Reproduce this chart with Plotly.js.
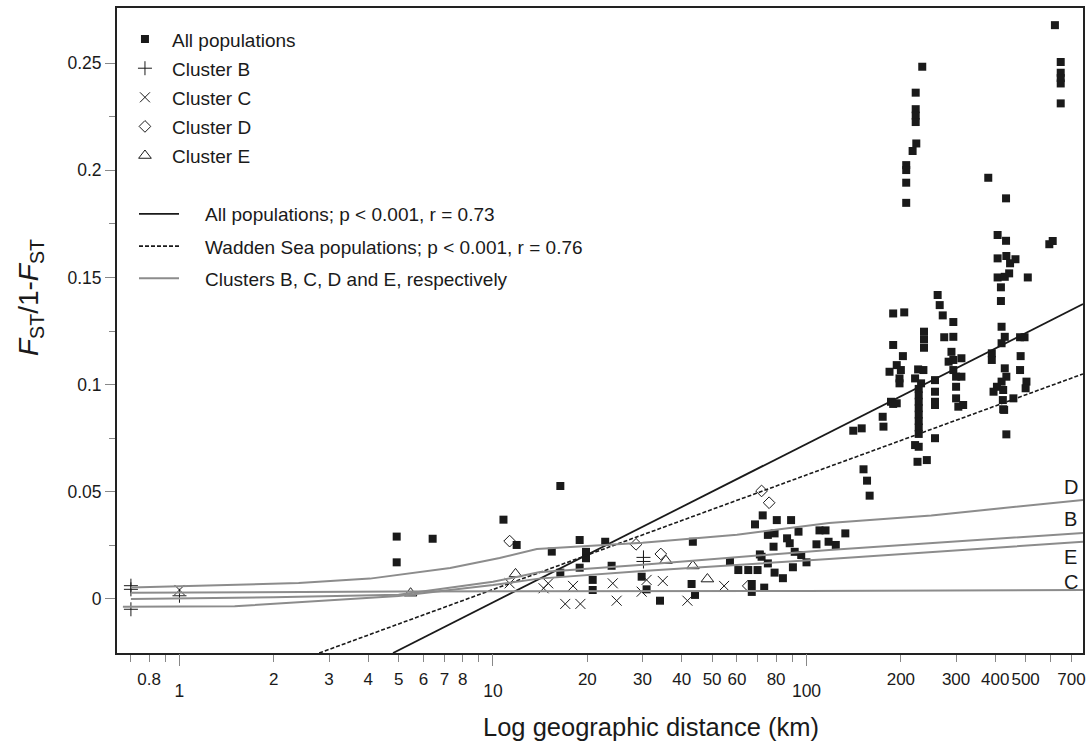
<!DOCTYPE html>
<html><head><meta charset="utf-8">
<script src="https://cdn.plot.ly/plotly-3.0.1.min.js"></script>
<style>body{margin:0;background:#fff}#chart{width:1090px;height:747px}</style>
</head><body><div id="chart"></div>
<script>
// ---- data: all populations (km, Fst/(1-Fst)) ----
const allX = [4.93,4.93,6.42,10.8,11.9,15.4,16.4,16.4,18.9,18.9,19.8,19.8,20.8,20.8,22.8,23.9,29.8,30.9,34.1,43.0,44.1,43.4,57.0,60.6,65.2,69.8,71.9,66.9,66.9,73.3,72.5,68.5,80.4,89.3,78.5,84.1,90.5,100,107.6,110,115,117.6,94.3,91.7,96.2,75.3,79.1,86.7,88.4,71.0,75.3,79.1,124,133,
141,150,175,176,189,152,156,159,
620,647,647,647,647,647,
234,223,223,223,223,224,218,208,208,208,208,
380,433,407,433,407,434,446,464,407,429,443,508,595,610,417,417,
262,266,272,294,189,205,237,237,237,275,294,189,203,194,200,184,198,198,227,236,222,232,
228,228,228,228,228,228,228,228,222,228,226,242,
257,257,257,257,257,
290,284,294,312,294,300,312,300,300,305,316,
186,194,
419,429,419,390,390,480,496,482,480,503,500,429,434,419,405,395,424,457,423,424,427,434];
const allY = [0.0291,0.0171,0.0281,0.037,0.0252,0.0221,0.0527,0.0123,0.0275,0.0146,0.022,0.019,0.0089,0.0042,0.0267,0.0155,0.0104,0.0045,-0.0008,0.007,0.0019,0.0267,0.0174,0.0135,0.0135,0.0135,0.0197,0.007,0.0033,0.0053,0.039,0.0348,0.0368,0.0368,0.0244,0.0097,0.0148,0.0171,0.0255,0.032,0.032,0.0267,0.0314,0.022,0.0205,0.0299,0.0306,0.0283,0.026,0.0208,0.0166,0.0123,0.0252,0.0306,
0.0785,0.0796,0.085,0.0804,0.091,0.0605,0.0552,0.0482,
0.2677,0.2505,0.2455,0.243,0.2405,0.2312,
0.2483,0.2362,0.2285,0.2255,0.2225,0.2125,0.209,0.2024,0.2001,0.1942,0.1848,
0.1965,0.1869,0.1698,0.1671,0.1589,0.16,0.1566,0.1585,0.150,0.1503,0.1519,0.150,0.1655,0.167,0.1454,0.139,
0.1418,0.1371,0.1323,0.1292,0.1332,0.1337,0.1247,0.1211,0.1172,0.1221,0.1223,0.1185,0.1133,0.1091,0.1068,0.106,0.1029,0.1006,0.1071,0.1068,0.1029,0.1006,
0.098,0.095,0.092,0.089,0.086,0.083,0.080,0.077,0.0718,0.071,0.064,0.0648,
0.1021,0.0967,0.092,0.0905,0.075,
0.1153,0.1107,0.1115,0.1123,0.1068,0.1037,0.1037,0.099,0.0936,0.0897,0.0905,
0.092,0.0913,
0.127,0.1223,0.1193,0.1146,0.1115,0.1221,0.1221,0.1133,0.1068,0.1014,0.0983,0.1076,0.1037,0.1014,0.099,0.0967,0.0975,0.0936,0.0928,0.0885,0.0882,0.0768];

const bX = [0.7,0.7,0.7,1.0,30.2,30.2];
const bY = [0.0062,0.0045,-0.0048,0.0015,0.0194,0.0175];
const cX = [1.0,11.3,14.5,15.0,18.0,17.0,19.0,24.1,24.8,29.8,30.9,34.8,41.7,54.6];
const cY = [0.0042,0.0073,0.005,0.0073,0.0061,-0.0023,-0.0023,0.0073,-0.0008,0.0034,0.0089,0.0084,-0.0008,0.0061];
const dX = [11.3,28.6,34.3,71.9,76.0,65.2];
const dY = [0.027,0.0255,0.021,0.0504,0.0449,0.0061];
const eX = [5.46,11.8,35.6,43.4,48.3];
const eY = [0.0027,0.0117,0.0179,0.0154,0.0093];

// regression lines (end points)
const allLineX = [4.8, 762];
const allLineY = [-0.0252, 0.1376];
const waddenLineX = [2.79, 762];
const waddenLineY = [-0.0252, 0.105];
// cluster fits
const fitDX = [0.7,2.4,4.05,7.3,10.5,13.8,30,60,118,250,762];
const fitDY = [0.0053,0.0074,0.0095,0.0145,0.0191,0.0233,0.0262,0.030,0.0354,0.039,0.0462];
const fitBX = [0.7,2,5,10,14,30,118,762];
const fitBY = [0.0,0.0008,0.002,0.008,0.0125,0.016,0.0229,0.0308];
const fitEX = [0.66,1.5,5,10,14,30,118,762];
const fitEY = [-0.0036,-0.0034,0.0014,0.0065,0.0095,0.013,0.0187,0.0267];
const fitCX = [0.7,5,100,762];
const fitCY = [0.0029,0.0035,0.0037,0.0042];
const fitLabels = ['D','B','E','C'];
const fitLabelY = [0.0521,0.0373,0.0197,0.0080];

const NB = '\u00a0';
const xTickVals = [0.8,2,3,4,5,6,7,8,20,30,40,50,60,80,200,300,400,500,700];
const xTickText = ['0.8','2','3','4','5','6','7','8','20','30','40','50','60','80','200','300','400','500','700'];
const xMinorVals = [0.7,0.9,9,70,90,600];
const xDecadeVals = [1,10,100];
const xDecadeText = ['1','10','100'];
const yTickVals = [0,0.05,0.1,0.15,0.2,0.25];
const yTickText = ['0','0.05','0.1','0.15','0.2','0.25'];
const yMinorVals = [0.025,0.075,0.125,0.175,0.225];

const FONT = 'Liberation Sans, Arial, Helvetica, sans-serif';
const INK = '#1a1a1a';
const GREY = '#8c8c8c';

const traces = [
  {x: allX, y: allY, mode: 'markers', type: 'scatter', name: 'All populations', legendgroup: 'a', legend: 'legend',
   marker: {symbol: 'square', size: 8, color: INK, line: {width: 0}}},
  {x: bX, y: bY, mode: 'markers', type: 'scatter', name: 'Cluster B', legendgroup: 'b', legend: 'legend',
   marker: {symbol: 'cross-thin-open', size: 10, color: INK, line: {width: 1, color: INK}}},
  {x: cX, y: cY, mode: 'markers', type: 'scatter', name: 'Cluster C', legendgroup: 'c', legend: 'legend',
   marker: {symbol: 'x-thin-open', size: 10, color: INK, line: {width: 1, color: INK}}},
  {x: dX, y: dY, mode: 'markers', type: 'scatter', name: 'Cluster D', legendgroup: 'd', legend: 'legend',
   marker: {symbol: 'diamond-open', size: 9, color: INK, line: {width: 1, color: INK}}},
  {x: eX, y: eY, mode: 'markers', type: 'scatter', name: 'Cluster E', legendgroup: 'e', legend: 'legend',
   marker: {symbol: 'triangle-up-open', size: 11, color: INK, line: {width: 1, color: INK}}},
  {x: allLineX, y: allLineY, mode: 'lines', type: 'scatter', name: NB.repeat(4) + 'All populations; p < 0.001, r = 0.73', legendgroup: 'l1', legend: 'legend2',
   line: {color: INK, width: 1.8}},
  {x: waddenLineX, y: waddenLineY, mode: 'lines', type: 'scatter', name: NB.repeat(4) + 'Wadden Sea populations; p < 0.001, r = 0.76', legendgroup: 'l2', legend: 'legend2',
   line: {color: INK, width: 1.6, dash: '4px,2px'}},
  {x: fitDX, y: fitDY, mode: 'lines', type: 'scatter', name: NB.repeat(4) + 'Clusters B, C, D and E, respectively', legendgroup: 'l3', legend: 'legend2',
   line: {color: GREY, width: 2}},
  {x: fitBX, y: fitBY, mode: 'lines', type: 'scatter', name: 'Cluster B fit', showlegend: false, line: {color: GREY, width: 2}},
  {x: fitEX, y: fitEY, mode: 'lines', type: 'scatter', name: 'Cluster E fit', showlegend: false, line: {color: GREY, width: 2}},
  {x: fitCX, y: fitCY, mode: 'lines', type: 'scatter', name: 'Cluster C fit', showlegend: false, line: {color: GREY, width: 2}},
  // carrier for the decade tick axis (no visible marks)
  {x: xDecadeVals, y: [null, null, null], xaxis: 'x2', yaxis: 'y', mode: 'markers', type: 'scatter',
   showlegend: false, hoverinfo: 'skip', marker: {opacity: 0}}
];

const xRange = [Math.log10(0.632), Math.log10(762)];

const annotations = fitLabels.map((t, i) => ({
  x: Math.log10(697), y: fitLabelY[i], xref: 'x', yref: 'y', text: t, showarrow: false,
  font: {family: FONT, size: 20, color: INK}
}));
// axis titles
annotations.push({
  text: 'Log geographic distance (km)', xref: 'paper', yref: 'paper', x: (651 - 117) / 966, y: 0,
  xanchor: 'center', yanchor: 'middle', yshift: -74, showarrow: false,
  font: {family: FONT, size: 25.5, color: INK}
});
annotations.push({
  text: '<i>F</i><sub>ST</sub>/1-<i>F</i><sub>ST</sub>', xref: 'paper', yref: 'paper', x: 0, y: (653 - 298) / 645,
  xanchor: 'center', yanchor: 'middle', xshift: -87, textangle: -90, showarrow: false,
  font: {family: FONT, size: 28, color: INK}
});

const layout = {
  width: 1090, height: 747,
  margin: {l: 117, r: 7, t: 8, b: 94},
  paper_bgcolor: '#fff', plot_bgcolor: '#fff',
  font: {family: FONT, size: 17, color: INK},
  showlegend: true,
  xaxis: {
    type: 'log', range: xRange, tickmode: 'array', tickvals: xTickVals, ticktext: xTickText, tickangle: 0,
    ticks: 'outside', ticklen: 7, tickwidth: 1, tickcolor: '#888', ticklabelstandoff: 3,
    minor: {tickmode: 'array', tickvals: xMinorVals, ticks: 'outside', ticklen: 7, tickwidth: 1, tickcolor: '#888'},
    showline: true, mirror: true, linecolor: '#222', linewidth: 2, showgrid: false, zeroline: false,
    tickfont: {family: FONT, size: 17, color: INK}
  },
  xaxis2: {
    type: 'log', range: xRange, overlaying: 'x', anchor: 'y', side: 'bottom', tickmode: 'array',
    tickvals: xDecadeVals, ticktext: xDecadeText, tickangle: 0,
    ticks: 'outside', ticklen: 12, tickwidth: 1, tickcolor: '#888', ticklabelstandoff: 10,
    showline: false, showgrid: false, zeroline: false,
    tickfont: {family: FONT, size: 17.5, color: INK}
  },
  yaxis: {
    range: [-0.0252, 0.2757], tickmode: 'array', tickvals: yTickVals, ticktext: yTickText,
    ticks: 'outside', ticklen: 10, tickwidth: 1, tickcolor: '#888',
    minor: {tickmode: 'array', tickvals: yMinorVals, ticks: 'outside', ticklen: 6, tickwidth: 1, tickcolor: '#888'},
    showline: true, mirror: true, linecolor: '#222', linewidth: 2, showgrid: false, zeroline: false,
    tickfont: {family: FONT, size: 17.5, color: INK}
  },
  legend: {
    x: 0.001, y: 0.981, xanchor: 'left', yanchor: 'top', bgcolor: 'rgba(0,0,0,0)', borderwidth: 0,
    font: {family: FONT, size: 19, color: INK}, itemwidth: 44, tracegroupgap: 1.4, traceorder: 'grouped'
  },
  legend2: {
    x: (134 - 117) / 966, y: 0.71, xanchor: 'left', yanchor: 'top', bgcolor: 'rgba(0,0,0,0)', borderwidth: 0,
    font: {family: FONT, size: 19, color: INK}, itemwidth: 40, tracegroupgap: 4.5, traceorder: 'grouped'
  },
  annotations: annotations
};

Plotly.newPlot('chart', traces, layout, {displayModeBar: false, staticPlot: true});
</script>
</body></html>
